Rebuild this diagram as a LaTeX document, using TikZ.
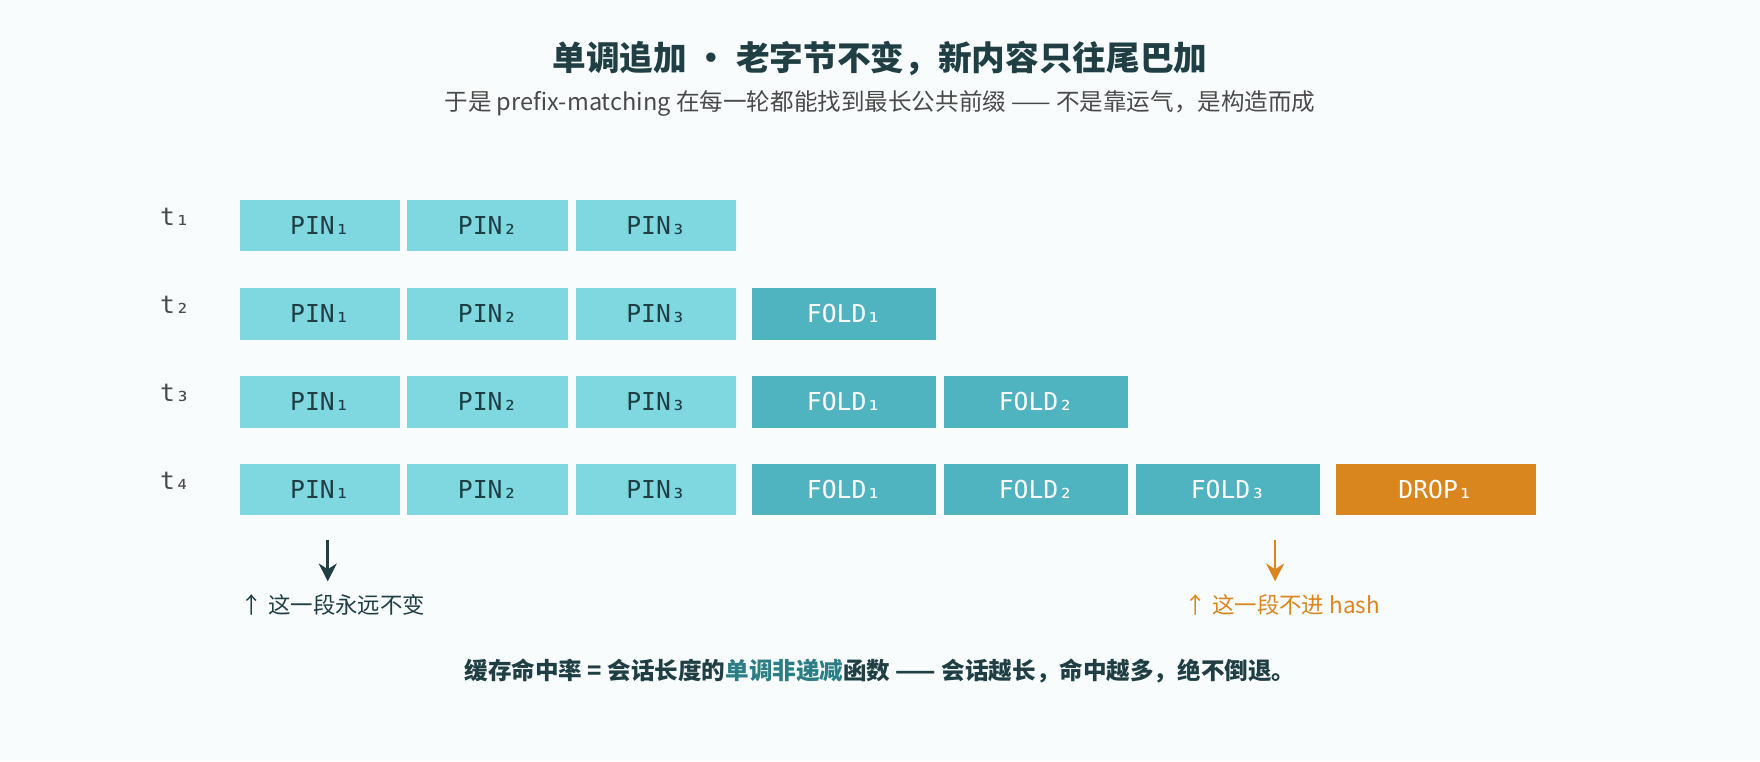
\documentclass[tikz,border=0pt]{standalone}
\usetikzlibrary{arrows.meta}
\usepackage{fontspec}
\setmainfont{Noto Sans CJK SC}
\newfontfamily\cjk{Noto Sans CJK SC}
\newfontfamily\mono{DejaVu Sans Mono}
\definecolor{bg}{HTML}{F8FCFD}
\definecolor{pin}{HTML}{7FD8E0}
\definecolor{fold}{HTML}{4FB3C0}
\definecolor{drop}{HTML}{D9861F}
\definecolor{ink}{HTML}{1F3F44}
\definecolor{teal}{HTML}{2A7E84}
\definecolor{grey}{HTML}{4A4A4A}
\begin{document}
\begin{tikzpicture}[x=0.5pt,y=-0.5pt,
  blk/.style={minimum height=23pt,inner sep=0pt,font=\mono\fontsize{11}{12}\selectfont},
  pinb/.style={blk,fill=pin,text=ink,minimum width=71.5pt},
  foldb/.style={blk,fill=fold,text=white,minimum width=82pt},
  dropb/.style={blk,fill=drop,text=white,minimum width=89pt},
  tl/.style={font=\mono\fontsize{11}{12}\selectfont,text=grey},
  arr/.style={line width=1.2pt,-{Stealth[length=8pt,width=8pt]}}]
\useasboundingbox[fill=bg] (0,0) rectangle (1568,678);
\node[font=\cjk\bfseries\fontsize{15}{18}\selectfont,text=ink] (title) at (784,52) {单调追加 · 老字节不变，新内容只往尾巴加};
\node[font=\cjk\fontsize{10.5}{12}\selectfont,text=grey] (sub) at (784,92) {于是 prefix-matching 在每一轮都能找到最长公共前缀 —— 不是靠运气，是构造而成};
\foreach \r/\y in {1/201,2/279.5,3/358,4/436}{
  \node[tl] (t\r) at (156,\y-8) {t\ifcase\r\or ₁\or ₂\or ₃\or ₄\fi};
  \node[pinb] (p\r a) at (285,\y) {PIN₁};
  \node[pinb] (p\r b) at (434.5,\y) {PIN₂};
  \node[pinb] (p\r c) at (584.5,\y) {PIN₃};
}
\node[foldb] (f2a) at (752,279.5) {FOLD₁};
\node[foldb] (f3a) at (752,358) {FOLD₁};
\node[foldb] (f3b) at (923,358) {FOLD₂};
\node[foldb] (f4a) at (752,436) {FOLD₁};
\node[foldb] (f4b) at (923,436) {FOLD₂};
\node[foldb] (f4c) at (1094,436) {FOLD₃};
\node[dropb] (d4) at (1279,436) {DROP₁};
\coordinate (a1s) at (292,481); \coordinate (a1e) at (292,518);
\coordinate (a2s) at (1136,481); \coordinate (a2e) at (1136,518);
\draw[arr,ink] (a1s) -- (a1e);
\draw[arr,drop] (a2s) -- (a2e);
\node[anchor=west,font=\cjk\fontsize{10}{12}\selectfont,text=ink,inner sep=0pt] (l1) at (214,539) {↑ 这一段永远不变};
\node[anchor=west,font=\cjk\fontsize{10}{12}\selectfont,text=drop,inner sep=0pt] (l2) at (1055,539) {↑ 这一段不进 hash};
\node[font=\cjk\bfseries\fontsize{10.5}{12}\selectfont,text=ink] (bot) at (784,598) {缓存命中率 = 会话长度的\textcolor{teal}{单调非递减}函数 —— 会话越长，命中越多，绝不倒退。};
\end{tikzpicture}
\end{document}
